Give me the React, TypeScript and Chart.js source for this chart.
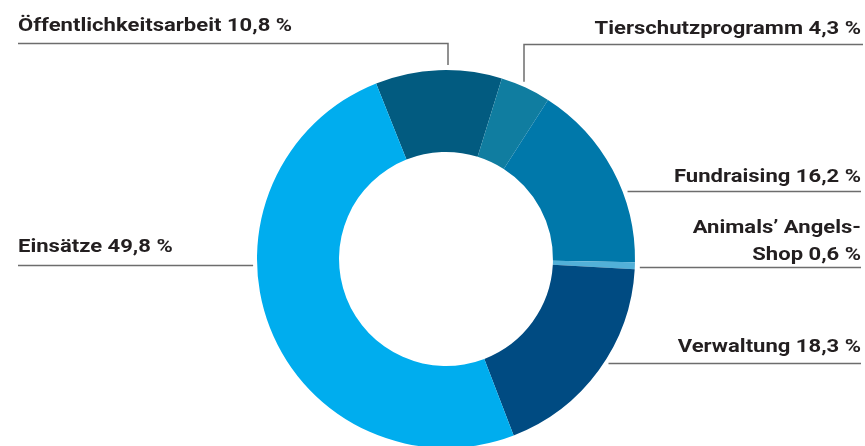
import React, { useEffect, useRef } from "react";
import { Chart, registerables } from "chart.js";

Chart.register(...registerables);

const categories = [
  "Öffentlichkeitsarbeit",
  "Tierschutzprogramm",
  "Fundraising",
  "Animals’ Angels-Shop",
  "Verwaltung",
  "Einsätze",
];
const values = [10.8, 4.3, 16.2, 0.6, 18.3, 49.8];
const valueLabels = ["10,8 %", "4,3 %", "16,2 %", "0,6 %", "18,3 %", "49,8 %"];
const colors = ["#025b80", "#107da0", "#0078aa", "#52b0d8", "#004b82", "#00adee"];

// label layout: side, text lines, baseline of first line, underline y, vertical leader x (optional)
const labelLayout = [
  { side: "left", lines: ["Öffentlichkeitsarbeit 10,8 %"], base: 31, lineY: 43.5, vx: 448 },
  { side: "right", lines: ["Tierschutzprogramm 4,3 %"], base: 34, lineY: 44.5, vx: 524 },
  { side: "right", lines: ["Fundraising 16,2 %"], base: 182, lineY: 191.5 },
  { side: "right", lines: ["Animals’ Angels-", "Shop 0,6 %"], base: 233, lineY: 267.5 },
  { side: "right", lines: ["Verwaltung 18,3 %"], base: 352, lineY: 363.5 },
  { side: "left", lines: ["Einsätze 49,8 %"], base: 252, lineY: 265.5 },
];

const labelPlugin = {
  id: "leaderLabels",
  afterDraw(chart: any) {
    const meta = chart.getDatasetMeta(0);
    const arc = meta.data[0];
    if (!arc) return;
    const cx = arc.x;
    const cy = arc.y;
    const R = arc.outerRadius;
    const ctx = chart.ctx;
    ctx.save();
    ctx.font = "bold 19px Roboto";
    ctx.fillStyle = "#231f20";
    ctx.strokeStyle = "#6d6d6d";
    ctx.lineWidth = 1.5;
    const leftX = 18;
    const rightX = 861;
    const sx = 1.16;
    labelLayout.forEach((l) => {
      ctx.textBaseline = "alphabetic";
      ctx.textAlign = l.side === "left" ? "left" : "right";
      l.lines.forEach((t, i) => {
        ctx.save();
        ctx.translate(l.side === "left" ? leftX : rightX, l.base + i * 27);
        ctx.scale(sx, 1);
        ctx.fillText(t, 0, 0);
        ctx.restore();
      });
      ctx.beginPath();
      if (l.vx !== undefined) {
        const dx = l.vx - cx;
        const edgeY = cy - Math.sqrt(Math.max(R * R - dx * dx, 0)) - 5;
        if (l.side === "left") {
          ctx.moveTo(leftX, l.lineY);
          ctx.lineTo(l.vx, l.lineY);
          ctx.lineTo(l.vx, edgeY);
        } else {
          ctx.moveTo(rightX + 2, l.lineY);
          ctx.lineTo(l.vx, l.lineY);
          ctx.lineTo(l.vx, edgeY);
        }
      } else {
        const dy = l.lineY - cy;
        const half = Math.sqrt(Math.max(R * R - dy * dy, 0));
        if (l.side === "left") {
          ctx.moveTo(leftX, l.lineY);
          ctx.lineTo(cx - half - 4, l.lineY);
        } else {
          ctx.moveTo(rightX, l.lineY);
          ctx.lineTo(cx + half + 5, l.lineY);
        }
      }
      ctx.stroke();
    });
    ctx.restore();
  },
};

export default function App() {
  const ref = useRef<HTMLCanvasElement>(null);
  useEffect(() => {
    if (!ref.current) return;
    const chart = new Chart(ref.current, {
      type: "doughnut",
      data: {
        labels: categories,
        datasets: [
          {
            data: values,
            backgroundColor: colors,
            borderWidth: 0,
            radius: 189,
            cutout: "56.6%",
          } as any,
        ],
      },
      options: {
        responsive: false,
        animation: false,
        devicePixelRatio: 1,
        rotation: -21.7,
        layout: { padding: { left: 127, right: 100, top: 80, bottom: 8 } },
        plugins: {
          legend: { display: false },
          tooltip: { enabled: false },
        },
      } as any,
      plugins: [labelPlugin],
    });
    return () => chart.destroy();
  }, []);
  return (
    <div style={{ position: "absolute", left: 0, top: 0, width: 865, height: 446, background: "#fff" }}>
      <canvas ref={ref} width={865} height={446} style={{ display: "block" }} />
    </div>
  );
}
